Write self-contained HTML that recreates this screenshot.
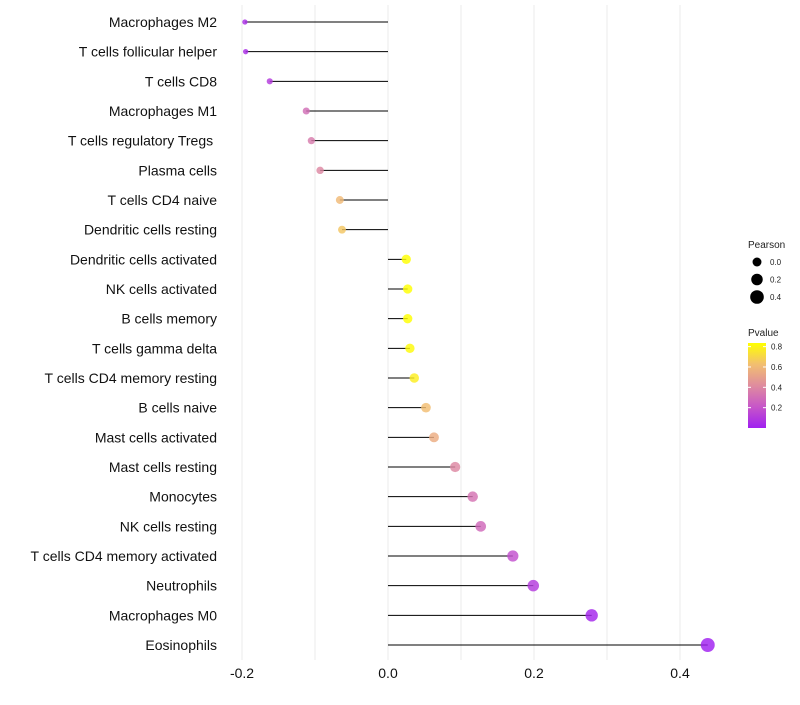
<!DOCTYPE html>
<html><head><meta charset="utf-8"><style>
body{margin:0;background:#fff;font-family:"Liberation Sans",sans-serif}
svg text{font-family:"Liberation Sans",sans-serif}
</style></head><body>
<svg id="chart" width="800" height="700" xmlns="http://www.w3.org/2000/svg">
<defs><linearGradient id="pg" x1="0" y1="1" x2="0" y2="0">
<stop offset="0" stop-color="#A020F0"/><stop offset="0.25" stop-color="#C756C8"/><stop offset="0.5" stop-color="#DF8C9E"/><stop offset="0.75" stop-color="#F2BF70"/><stop offset="1" stop-color="#FFFF00"/></linearGradient></defs>
<g id="grid"></g>
<g id="marks"></g>
<g id="ylab"></g>
<g id="xlab"></g>
<g>
<text x="748" y="248" font-size="10" fill="#222">Pearson</text>
<g id="sizeleg"></g>
</g>
<g>
<text x="748" y="336" font-size="10" fill="#222">Pvalue</text>
<rect x="748" y="343" width="18" height="85" fill="url(#pg)"/>
<g id="colleg"></g>
</g>
</svg>
<script>
const categories=["Macrophages M2","T cells follicular helper","T cells CD8","Macrophages M1","T cells regulatory  Tregs\u00a0","Plasma cells","T cells CD4 naive","Dendritic cells resting","Dendritic cells activated","NK cells activated","B cells memory","T cells gamma delta","T cells CD4 memory resting","B cells naive","Mast cells activated","Mast cells resting","Monocytes","NK cells resting","T cells CD4 memory activated","Neutrophils","Macrophages M0","Eosinophils"];
const pearson=[-0.196,-0.195,-0.162,-0.112,-0.105,-0.093,-0.066,-0.063,0.025,0.027,0.027,0.030,0.036,0.052,0.063,0.092,0.116,0.127,0.171,0.199,0.279,0.438];
const pvalue=[0.05,0.05,0.1,0.3,0.35,0.4,0.6,0.65,0.85,0.85,0.85,0.82,0.78,0.62,0.55,0.4,0.32,0.28,0.18,0.1,0.02,0.0];
const xTicks=[-0.2,0,0.2,0.4];
const xTickLabels=["-0.2","0.0","0.2","0.4"];
const xMinor=[-0.1,0.1,0.3];
const sizeLegend=[0.0,0.2,0.4];
const colTicks=[0.8,0.6,0.4,0.2];
const NS="http://www.w3.org/2000/svg";
const X=v=>388+v*730;
const Y=i=>22+i*29.667;
const R=v=>Math.sqrt(Math.max(2,20+66*v));
const P2Y=p=>428-p*101.7;
function mix(a,b,t){return a.map((x,i)=>Math.round(x+(b[i]-x)*t));}
const stops=[[160,32,240],[199,86,200],[223,140,158],[242,191,112],[255,255,0]];
function col(p){let t=Math.min(1,Math.max(0,p/0.835))*4;let i=Math.min(3,Math.floor(t));let c=mix(stops[i],stops[i+1],t-i);return `rgb(${c})`;}
function el(tag,attrs,parent){const e=document.createElementNS(NS,tag);for(const k in attrs)e.setAttribute(k,attrs[k]);parent.appendChild(e);return e;}
const grid=document.getElementById('grid');
xTicks.concat(xMinor).forEach(v=>{const l=el('line',{x1:X(v),x2:X(v),y1:5,y2:660,stroke:'#ebebeb','stroke-width':1},grid);

});
const marks=document.getElementById('marks'),ylab=document.getElementById('ylab'),xlab=document.getElementById('xlab');
categories.forEach((c,i)=>{
 const ln=el('line',{x1:X(0),x2:X(pearson[i]),y1:Y(i),y2:Y(i),stroke:'#000','stroke-width':1},marks);
 
 
 const pt=el('circle',{cx:X(pearson[i]),cy:Y(i),r:R(pearson[i]),fill:col(pvalue[i]),'fill-opacity':0.82},marks);
 
 
 const t=el('text',{x:217,y:Y(i)+5,'text-anchor':'end','font-size':14,fill:'#111'},ylab);t.textContent=c;
 
 
});
xTicks.forEach((v,i)=>{const t=el('text',{x:X(v),y:678,'text-anchor':'middle','font-size':14,fill:'#111'},xlab);t.textContent=xTickLabels[i];
 
 });
const sl=document.getElementById('sizeleg');
sizeLegend.forEach((v,i)=>{const y=262+i*17.5;const c=el('circle',{cx:757,cy:y,r:R(v),fill:'#000'},sl);
 
 
 const t=el('text',{x:770,y:y+3,'font-size':8,fill:'#222'},sl);t.textContent=v.toFixed(1);});
const cl=document.getElementById('colleg');
colTicks.forEach(p=>{const y=P2Y(p);el('line',{x1:748,x2:751,y1:y,y2:y,stroke:'#fff'},cl);el('line',{x1:763,x2:766,y1:y,y2:y,stroke:'#fff'},cl);
 const t=el('text',{x:771,y:y+3,'font-size':8,fill:'#222'},cl);t.textContent=p.toFixed(1);
 
 });
</script>
</body></html>
